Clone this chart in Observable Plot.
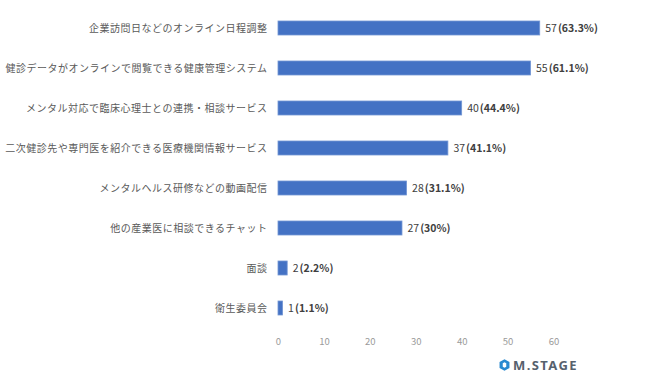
<!DOCTYPE html>
<html>
<head>
<meta charset="utf-8">
<script src="https://cdn.jsdelivr.net/npm/d3@7"></script>
<script src="https://cdn.jsdelivr.net/npm/@observablehq/plot@0.6"></script>
<style>
  html, body { margin: 0; padding: 0; background: #fff; }
  #wrap { position: relative; width: 650px; height: 374px; }
  #logo { position: absolute; left: 499px; top: 357px; display: flex; align-items: center; gap: 3px;
          font-family: "Noto Sans", "DejaVu Sans", sans-serif; font-weight: 700; font-size: 13px;
          color: #56616d; letter-spacing: 1.4px; line-height: 16px; }
</style>
</head>
<body>
<div id="wrap"></div>
<script>
const categories = [
  "企業訪問日などのオンライン日程調整",
  "健診データがオンラインで閲覧できる健康管理システム",
  "メンタル対応で臨床心理士との連携・相談サービス",
  "二次健診先や専門医を紹介できる医療機関情報サービス",
  "メンタルヘルス研修などの動画配信",
  "他の産業医に相談できるチャット",
  "面談",
  "衛生委員会"
];
const counts = [57, 55, 40, 37, 28, 27, 2, 1];
const percents = ["63.3%", "61.1%", "44.4%", "41.1%", "31.1%", "30%", "2.2%", "1.1%"];
const xTicks = [0, 10, 20, 30, 40, 50, 60];

const data = categories.map((c, i) => ({category: c, count: counts[i], pct: percents[i]}));

const chart = Plot.plot({
  width: 650,
  height: 374,
  marginLeft: 278,
  marginRight: 96.5,
  marginTop: 8,
  marginBottom: 46,
  style: {fontFamily: "'Noto Sans CJK JP', 'Noto Sans', sans-serif", background: "#fff"},
  x: {domain: [0, 60], ticks: xTicks, label: null},
  y: {domain: categories, paddingInner: 0.65, paddingOuter: 0.325, label: null},
  marks: [
    Plot.gridX(xTicks, {stroke: "#d9d9d9", strokeOpacity: 1, strokeWidth: 1, y1: 8, y2: 331}),
    Plot.axisX({ticks: xTicks, tickSize: 0, tickPadding: 10, fontSize: 9.5, fill: "#9a9a9a", label: null}),
    Plot.axisY({tickSize: 0, tickPadding: 11, fontSize: 10, fill: "#595959", label: null}),
    Plot.barX(data, {x: "count", y: "category", fill: "#4472c4", stroke: "#7396d4", strokeWidth: 0.8}),
    Plot.text(data, {x: "count", y: "category", text: d => `${d.count}(${d.pct})`, textAnchor: "start", dx: 5,
      fontSize: 10.5, fill: "#404040"})
  ]
});

// letter spacing for category labels, bold percentage parts
d3.select(chart).selectAll("g[aria-label='y-axis tick label'] text").style("letter-spacing", "0.5px");
d3.select(chart).selectAll("g[aria-label='text'] text").each(function() {
  const t = this.textContent;
  const m = t.match(/^(\d+)(\(.*\))$/);
  if (!m) return;
  const sel = d3.select(this);
  sel.text(null);
  sel.append("tspan").text(m[1]);
  sel.append("tspan").attr("dx", 1).attr("font-weight", "bold").text(m[2]);
});

const wrap = document.getElementById("wrap");
wrap.appendChild(chart);
const logo = document.createElement("div");
logo.id = "logo";
logo.innerHTML = `<svg width="11" height="12" viewBox="0 0 13 15"><path d="M6.5 0.3 L12.7 3.6 L12.7 11.4 L6.5 14.7 L0.3 11.4 L0.3 3.6 Z M6.5 4 L4.3 5.3 L4.3 9.7 L6.5 11 L8.7 9.7 L8.7 5.3 Z" fill="#2a8ad0" fill-rule="evenodd"/></svg><span>M.STAGE</span>`;
wrap.appendChild(logo);
</script>
</body>
</html>
